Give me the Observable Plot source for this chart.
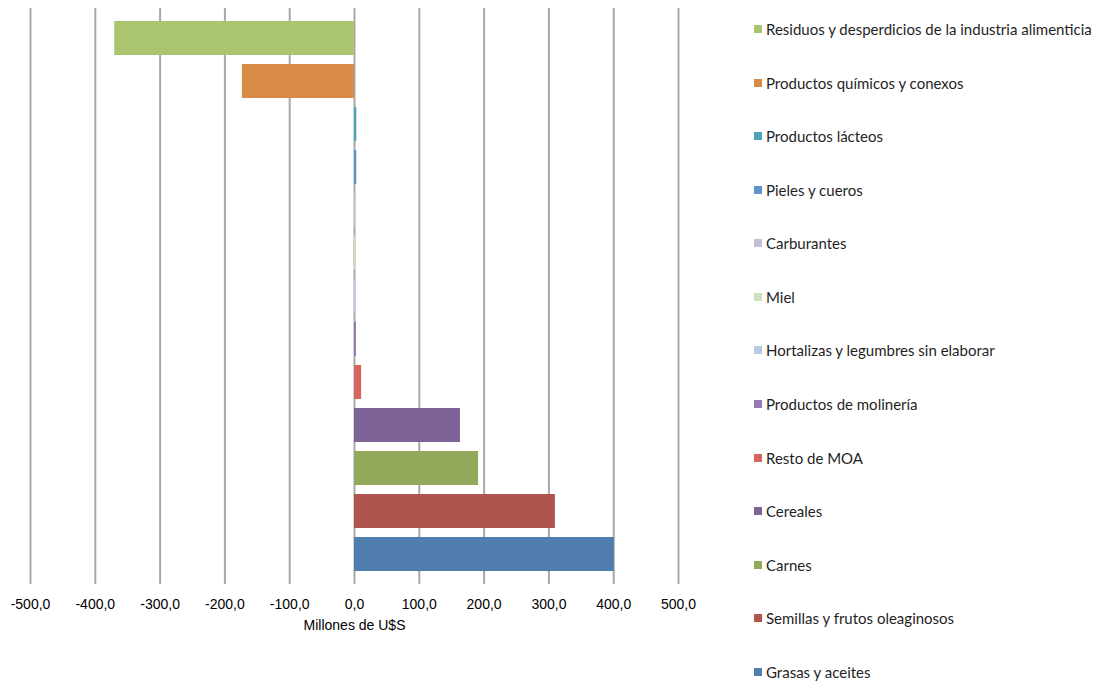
<!DOCTYPE html>
<html><head><meta charset="utf-8">
<script src="https://cdn.jsdelivr.net/npm/d3@7"></script>
<script src="https://cdn.jsdelivr.net/npm/@observablehq/plot@0.6"></script>
<style>
body{margin:0;background:#fff;}
#wrap{position:relative;width:1097px;height:684px;overflow:hidden;}
#chart{position:absolute;left:0;top:0;}
.leg{position:absolute;left:754px;height:20px;font-family:Lato, sans-serif;font-size:15px;color:#1f1f1f;white-space:nowrap;display:flex;align-items:center;}
.sw{width:8px;height:8px;margin-right:4px;flex:none;}
</style></head><body>
<div id="wrap"><div id="chart"></div></div>
<script>
const categories = [
  "Residuos y desperdicios de la industria alimenticia",
  "Productos químicos y conexos",
  "Productos lácteos",
  "Pieles y cueros",
  "Carburantes",
  "Miel",
  "Hortalizas y legumbres sin elaborar",
  "Productos de molinería",
  "Resto de MOA",
  "Cereales",
  "Carnes",
  "Semillas y frutos oleaginosos",
  "Grasas y aceites"
];
const values = [-370, -173, 3.5, 3.5, 2, 2, 2.5, 3, 11, 163.5, 191.5, 310, 401];
const colors = ["#abc46e", "#d78b46", "#4ba4b5", "#5e93c9", "#c7bfd9", "#d1e0bc", "#b9c9e2", "#9479b5", "#d5665f", "#7e6399", "#93a95a", "#b0554d", "#4f7dad"];
const xTicks = [-500, -400, -300, -200, -100, 0, 100, 200, 300, 400, 500];
const axisLabel = "Millones de U$S";

const data = categories.map((c, i) => ({category: c, value: values[i], color: colors[i]}));
const fmt = d => d.toFixed(1).replace(".", ",");

const chart = Plot.plot({
  width: 740, height: 684,
  marginTop: 8, marginBottom: 100, marginLeft: 30, marginRight: 62,
  style: {fontFamily: "'Liberation Sans', Arial, sans-serif", fontSize: "14px", color: "#000", background: "#fff"},
  x: {domain: [-500, 500], ticks: xTicks, tickFormat: fmt, tickSize: 0, tickPadding: 15, label: null},
  y: {domain: categories, paddingInner: 0.21, paddingOuter: 0.3, axis: null},
  color: {type: "identity"},
  marks: [
    Plot.ruleX(xTicks, {stroke: "#a8a8a8", strokeWidth: 2}),
    Plot.barX(data, {x: "value", y: "category", fill: "color"}),
    Plot.text([axisLabel], {text: d => d, frameAnchor: "bottom", dy: 41, lineAnchor: "middle", fontSize: 14, fill: "#000"})
  ]
});
document.getElementById("chart").appendChild(chart);

const wrap = document.getElementById("wrap");
categories.forEach((c, i) => {
  const el = document.createElement("div");
  el.className = "leg";
  el.style.top = (29 + i * 53.58 - 10) + "px";
  const sw = document.createElement("span");
  sw.className = "sw";
  sw.style.background = colors[i];
  const t = document.createElement("span");
  t.textContent = c;
  el.appendChild(sw); el.appendChild(t);
  wrap.appendChild(el);
});
</script>
</body></html>
